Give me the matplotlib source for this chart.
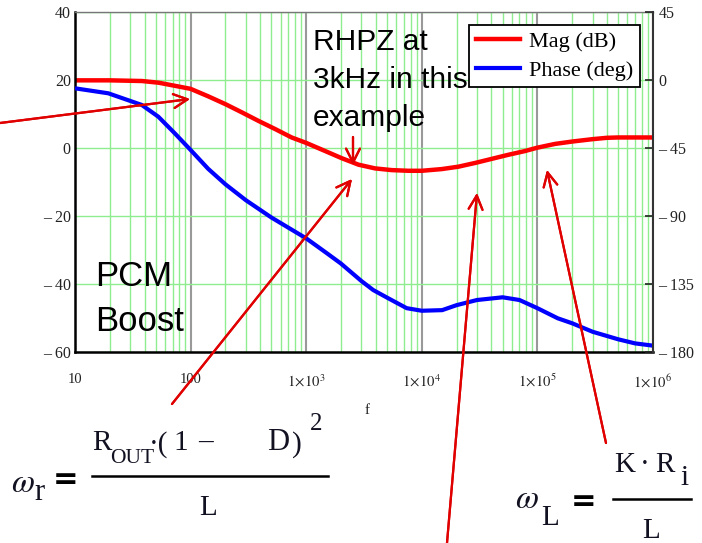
import matplotlib.pyplot as plt
import numpy as np
from matplotlib.ticker import LogLocator, NullFormatter, FixedLocator, FixedFormatter
from matplotlib.lines import Line2D

plt.rcParams['mathtext.fontset'] = 'stix'
plt.rcParams['font.family'] = 'Liberation Serif'

# Bode data for the PCM boost power stage
mag_freq = [10, 20, 38, 53, 73, 100, 142, 200, 277, 385, 537, 748,
            1e3, 1.46e3, 2.03e3, 2.83e3, 3.94e3, 5.49e3, 7.65e3, 1e4,
            1.49e4, 2.07e4, 2.89e4, 4.02e4, 5.6e4, 7.8e4, 1e5,
            1.42e5, 2e5, 3e5, 4e5, 5e5, 7e5, 1e6]
mag_db = [19.9, 19.9, 19.7, 19.2, 18.3, 17.4, 15.2, 12.9, 10.5, 8.0, 5.6, 3.1,
          1.5, -0.9, -3.0, -4.9, -6.0, -6.5, -6.7, -6.7,
          -6.2, -5.5, -4.4, -3.2, -2.0, -0.9, 0.1,
          1.2, 1.9, 2.6, 3.0, 3.1, 3.1, 3.1]

phase_freq = [10, 19.4, 37.8, 52.6, 73, 100, 142, 200, 300, 500,
              1e3, 1.5e3, 2e3, 3e3, 3.8e3, 5e3, 7.4e3, 1e4, 1.5e4, 2e4, 3e4,
              5e4, 7e4, 1e5, 1.5e5, 2e5, 3e5, 5e5, 7e5, 1e6]
phase_deg = [-5.5, -8.8, -16.5, -24.3, -35.3, -46.3, -58.8, -69.0, -79.5, -91.0,
             -104.8, -114.5, -121.5, -133.0, -139.0, -144.0, -151.0, -152.7, -152.3,
             -149.0, -145.6, -143.8, -145.6, -151.0, -157.7, -161.0, -166.6, -171.6,
             -174.3, -175.8]

mag_ticks = [40, 20, 0, -20, -40, -60]
mag_labels = ['40', '20', '0', '\u2013 20', '\u2013 40', '\u2013 60']
phase_ticks = [45, 0, -45, -90, -135, -180]
phase_labels = ['45', '0', '\u2013 45', '\u2013 90', '\u2013 135', '\u2013 180']
f_ticks = [10, 100, 1e3, 1e4, 1e5, 1e6]
f_labels = ['10', '100', r'$1\!\times\!10^{3}$', r'$1\!\times\!10^{4}$',
            r'$1\!\times\!10^{5}$', r'$1\!\times\!10^{6}$']

W, H = 702, 543


def P(x, y):
    # pixel position (from top-left) -> figure fraction
    return (x / W, 1 - y / H)


fig = plt.figure(figsize=(W / 100, H / 100), dpi=100)
ax = fig.add_axes([75 / W, 1 - 352 / H, (653 - 75) / W, (352 - 12) / H])
ax2 = ax.twinx()

green = '#8fec8f'
ax.set_xscale('log')
ax.set_xlim(10, 1e6)
ax.set_ylim(-60, 40)
ax.xaxis.set_major_locator(FixedLocator(f_ticks))
ax.xaxis.set_major_formatter(FixedFormatter(f_labels))
ax.xaxis.set_minor_locator(LogLocator(base=10, subs=np.arange(2, 10)))
ax.xaxis.set_minor_formatter(NullFormatter())
ax.set_yticks(mag_ticks)
ax.set_yticklabels(mag_labels)
ax.grid(which='minor', axis='x', color=green, lw=1.0)
ax.grid(which='major', axis='x', color='#999999', lw=1.5)
ax.grid(which='major', axis='y', color=green, lw=1.0)
ax.set_axisbelow(True)
ax.tick_params(which='both', length=0)
ax.tick_params(axis='y', pad=3, labelsize=11.5, colors='#222222')
ax.tick_params(axis='x', pad=15, labelsize=10.5, colors='#222222')

ax.plot(mag_freq, mag_db, color='#ff0000', lw=3.2, solid_joinstyle='round',
        solid_capstyle='butt', label='Mag (dB)')

ax2.set_ylim(-180, 45)
ax2.set_yticks(phase_ticks)
ax2.set_yticklabels(phase_labels)
ax2.tick_params(axis='y', direction='in', length=6, width=1.2, pad=4,
                labelsize=11.5, colors='#222222')
ax2.plot(phase_freq, phase_deg, color='#0000ff', lw=3.0, solid_joinstyle='round',
         solid_capstyle='butt', label='Phase (deg)')

for a in (ax, ax2):
    for s in a.spines.values():
        s.set_visible(False)
ax.spines['left'].set_visible(True)
ax.spines['left'].set_linewidth(1.8)
ax.spines['bottom'].set_visible(True)
ax.spines['bottom'].set_linewidth(1.8)
ax.spines['top'].set_visible(True)
ax.spines['top'].set_linewidth(1.0)
ax.spines['top'].set_color('#777777')
ax2.spines['right'].set_visible(True)
ax2.spines['right'].set_linewidth(1.5)
ax2.spines['right'].set_color('#333333')

handles = [Line2D([], [], color='#ff0000', lw=3.2), Line2D([], [], color='#0000ff', lw=3.0)]
leg = ax2.legend(handles, ['Mag (dB)', 'Phase (deg)'], loc='upper right',
                 bbox_to_anchor=((640 - 75) / 578, (352 - 25) / 340), borderaxespad=0,
                 fancybox=False, framealpha=1, edgecolor='black', fontsize=16,
                 handlelength=2.0, handletextpad=0.4, labelspacing=0.35, borderpad=0.3)
leg.get_frame().set_linewidth(1.3)

fig.text(*P(367, 410), 'f', fontsize=11, ha='center', va='center', color='#222222')

# annotations
sans = 'Liberation Sans'
fig.text(*P(313, 28), 'RHPZ at\n3kHz in this\nexample', family=sans, fontsize=21.5,
         ha='left', va='top', linespacing=1.45)
fig.text(*P(95, 260), 'PCM\nBoost', family=sans, fontsize=25,
         ha='left', va='top', linespacing=1.45)

arrows = [((0, 123), (190, 99)),
          ((353, 137), (353, 165)),
          ((172, 404), (352, 179)),
          ((447, 543), (477, 193)),
          ((606, 443), (547, 170))]
for start, tip in arrows:
    fig.add_artist(plt.annotate('', xy=P(*tip), xytext=P(*start),
                                xycoords='figure fraction', textcoords='figure fraction',
                                arrowprops=dict(arrowstyle='->,head_length=1.0,head_width=0.5',
                                                color='#e00000', lw=1.6,
                                                shrinkA=0, shrinkB=0)))

# formulas
ink = '#111122'
fs = 21
fig.text(*P(11, 492), r'$\omega$', fontsize=24, color=ink, va='baseline')
fig.text(*P(34, 500), 'r', fontsize=22, color=ink, va='baseline')
fig.text(*P(66, 479), '=', family='DejaVu Sans', fontweight='bold', fontsize=22,
         color='black', ha='center', va='center')
fig.text(*P(92, 450), 'R', fontsize=fs, color=ink, va='baseline')
fig.text(*P(110, 463), 'OUT', fontsize=15.5, color=ink, va='baseline')
fig.text(*P(149, 452), '\u00b7(', fontsize=fs, color=ink, va='baseline')
fig.text(*P(173, 450), '1', fontsize=fs, color=ink, va='baseline')
fig.text(*P(198, 450), '\u2013', fontsize=fs, color=ink, va='baseline')
fig.text(*P(267, 450), 'D', fontsize=22, color=ink, va='baseline')
fig.text(*P(292, 452), ')', fontsize=fs, color=ink, va='baseline')
fig.text(*P(310, 430), '2', fontsize=18, color=ink, va='baseline')
fig.add_artist(Line2D([92 / W, 328 / W], [1 - 476 / H] * 2, color='black', lw=1.8))
fig.text(*P(208, 515), 'L', fontsize=fs, color=ink, ha='center', va='baseline')

fig.text(*P(515, 508), r'$\omega$', fontsize=24, color=ink, va='baseline')
fig.text(*P(541, 525), 'L', fontsize=fs, color=ink, va='baseline')
fig.text(*P(584, 501), '=', family='DejaVu Sans', fontweight='bold', fontsize=22,
         color='black', ha='center', va='center')
fig.text(*P(614, 472), 'K', fontsize=21, color=ink, va='baseline')
fig.text(*P(640, 472), '\u00b7', fontsize=21, color=ink, va='baseline')
fig.text(*P(655, 472), 'R', fontsize=21, color=ink, va='baseline')
fig.text(*P(680, 485), 'i', fontsize=fs, color=ink, va='baseline')
fig.add_artist(Line2D([613 / W, 691 / W], [1 - 499 / H] * 2, color='black', lw=1.8))
fig.text(*P(651, 538), 'L', fontsize=fs, color=ink, ha='center', va='baseline')

fig.savefig('out.png', dpi=100)
